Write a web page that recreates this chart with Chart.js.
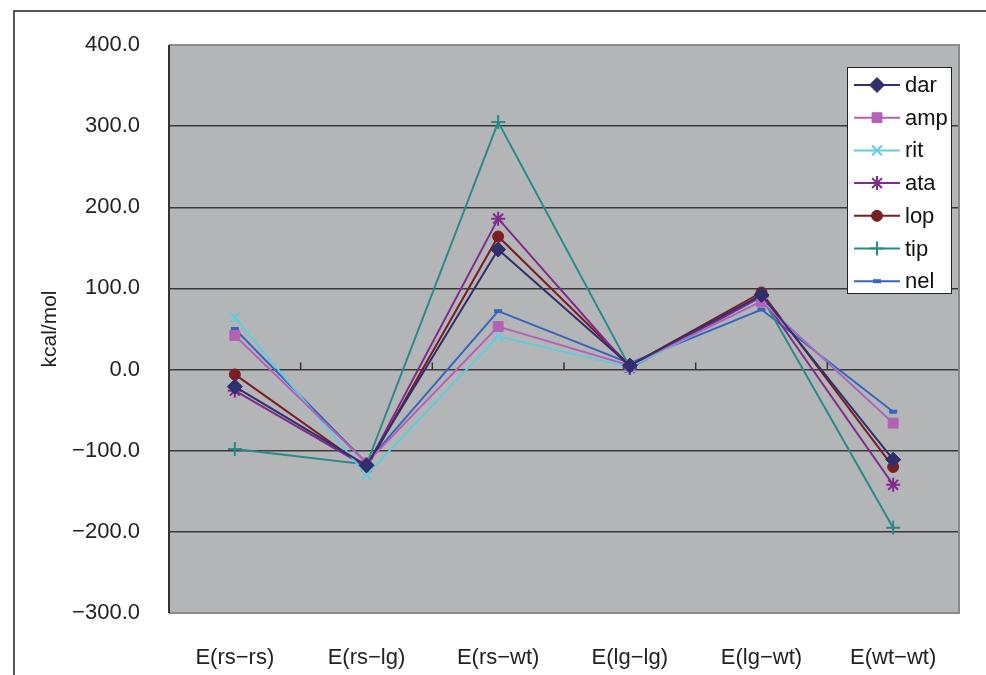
<!DOCTYPE html>
<html>
<head>
<meta charset="utf-8">
<script src="https://cdn.jsdelivr.net/npm/chart.js@4"></script>
<style>
  html, body { margin: 0; padding: 0; background: #fff; }
  #wrap { width: 986px; height: 675px; }
</style>
</head>
<body>
<div id="wrap"><canvas id="lineChart" width="986" height="675"></canvas></div>
<script>
// Chart data
const categories = ['E(rs−rs)', 'E(rs−lg)', 'E(rs−wt)', 'E(lg−lg)', 'E(lg−wt)', 'E(wt−wt)'];
const darValues = [-21, -118, 148, 5, 92, -111];
const ampValues = [42, -115, 53, 5, 84, -66];
const ritValues = [64, -130, 41, 3, 85, -66];
const ataValues = [-26, -120, 186, 2, 90, -142];
const lopValues = [-6, -121, 164, 5, 95, -120];
const tipValues = [-98, -117, 305, 3, 90, -195];
const nelValues = [50, -115, 72, 8, 74, -52];
const yTicks = [-300, -200, -100, 0, 100, 200, 300, 400];

function series(label, data, color, style, radius, pointBorder) {
    return {
        label: label,
        data: data,
        borderColor: color,
        backgroundColor: color,
        borderWidth: 2,
        pointStyle: style,
        pointRadius: radius,
        pointBorderWidth: pointBorder,
        pointBackgroundColor: color,
        pointBorderColor: color,
        tension: 0
    };
}

// Frame, gray plot background and legend box
const decorPlugin = {
    id: 'decor',
    beforeDraw(chart) {
        const ctx = chart.ctx;
        const a = chart.chartArea;
        ctx.save();
        ctx.fillStyle = '#fff';
        ctx.fillRect(0, 0, chart.width, chart.height);
        ctx.strokeStyle = '#222';
        ctx.lineWidth = 1.5;
        ctx.beginPath();
        ctx.moveTo(14, chart.height);
        ctx.lineTo(14, 11);
        ctx.lineTo(chart.width, 11);
        ctx.stroke();
        ctx.fillStyle = '#b4b5b7';
        ctx.fillRect(a.left, a.top, a.right - a.left, a.bottom - a.top);
        ctx.restore();
    },
    afterDatasetsDraw(chart) {
        const ctx = chart.ctx;
        const a = chart.chartArea;
        const y = chart.scales.y;
        ctx.save();
        // plot border
        ctx.lineWidth = 2;
        ctx.strokeStyle = '#8a8b8d';
        ctx.beginPath();
        ctx.moveTo(a.left, a.top);
        ctx.lineTo(a.right, a.top);
        ctx.lineTo(a.right, a.bottom);
        ctx.lineTo(a.left, a.bottom);
        ctx.stroke();
        ctx.strokeStyle = '#333';
        ctx.beginPath();
        ctx.moveTo(a.left, a.top);
        ctx.lineTo(a.left, a.bottom);
        ctx.stroke();
        // category ticks on the zero line
        const zeroY = y.getPixelForValue(0);
        const step = (a.right - a.left) / categories.length;
        ctx.lineWidth = 1.5;
        ctx.beginPath();
        for (let i = 1; i < categories.length; i++) {
            const px = a.left + step * i;
            ctx.moveTo(px, zeroY);
            ctx.lineTo(px, zeroY - 7);
        }
        ctx.stroke();

        // legend
        const boxW = 104, boxH = 226;
        const bx = a.right - 8 - boxW;
        const by = a.top + 22;
        ctx.fillStyle = '#fff';
        ctx.fillRect(bx, by, boxW, boxH);
        ctx.strokeStyle = '#222';
        ctx.lineWidth = 1;
        ctx.strokeRect(bx + 0.5, by + 0.5, boxW, boxH);
        ctx.font = '22px "Liberation Sans", Arial, sans-serif';
        ctx.textBaseline = 'middle';
        chart.data.datasets.forEach((ds, i) => {
            const cy = by + 18 + i * 32.7;
            ctx.strokeStyle = ds.borderColor;
            ctx.fillStyle = ds.borderColor;
            ctx.lineWidth = 2;
            ctx.beginPath();
            ctx.moveTo(bx + 7, cy);
            ctx.lineTo(bx + 53, cy);
            ctx.stroke();
            ctx.lineWidth = ds.pointBorderWidth;
            Chart.helpers.drawPoint(ctx, {
                pointStyle: ds.pointStyle,
                radius: ds.pointRadius,
                rotation: 0,
                borderWidth: ds.pointBorderWidth
            }, bx + 30, cy);
            ctx.fillStyle = '#111';
            ctx.fillText(ds.label, bx + 58, cy + 1);
        });
        ctx.restore();
    }
};

const ctxLine = document.getElementById('lineChart').getContext('2d');
const lineChart = new Chart(ctxLine, {
    type: 'line',
    data: {
        labels: categories,
        datasets: [
            series('dar', darValues, '#2f2f6c', 'rectRot', 7.5, 1),
            series('amp', ampValues, '#b561b8', 'rect', 7, 1),
            series('rit', ritValues, '#63cbdc', 'crossRot', 7, 2),
            series('ata', ataValues, '#7f2a8c', 'star', 7, 2),
            series('lop', lopValues, '#7b1d24', 'circle', 5.5, 1),
            series('tip', tipValues, '#2a8a8a', 'cross', 7, 2),
            series('nel', nelValues, '#3565bd', 'line', 4, 4)
        ]
    },
    options: {
        responsive: false,
        animation: false,
        layout: {
            padding: { left: 0, right: 27, top: 45, bottom: 0 }
        },
        plugins: {
            legend: { display: false },
            tooltip: { enabled: false }
        },
        scales: {
            x: {
                offset: true,
                grid: { display: false },
                border: { display: false },
                ticks: {
                    color: '#222',
                    padding: 24,
                    maxRotation: 0,
                    font: { family: '"Liberation Sans", Arial, sans-serif', size: 22 }
                },
                afterFit: function (scale) { scale.height = 62; }
            },
            y: {
                min: -300,
                max: 400,
                afterBuildTicks: function (scale) {
                    scale.ticks = yTicks.map(v => ({ value: v }));
                },
                grid: {
                    drawTicks: false,
                    color: ctx => (ctx.tick && (ctx.tick.value === 400 || ctx.tick.value === -300)) ? 'rgba(0,0,0,0)' : '#3a3a3a',
                    lineWidth: 1.5
                },
                border: { display: false },
                ticks: {
                    color: '#222',
                    padding: 29,
                    font: { family: '"Liberation Sans", Arial, sans-serif', size: 22 },
                    callback: value => value.toFixed(1).replace('-', '−')
                },
                title: {
                    display: true,
                    text: 'kcal/mol',
                    color: '#222',
                    padding: { top: 38, bottom: 0 },
                    font: { family: '"Liberation Sans", Arial, sans-serif', size: 21 }
                },
                afterFit: function (scale) { scale.width = 169; }
            }
        }
    },
    plugins: [decorPlugin]
});
</script>
</body>
</html>
